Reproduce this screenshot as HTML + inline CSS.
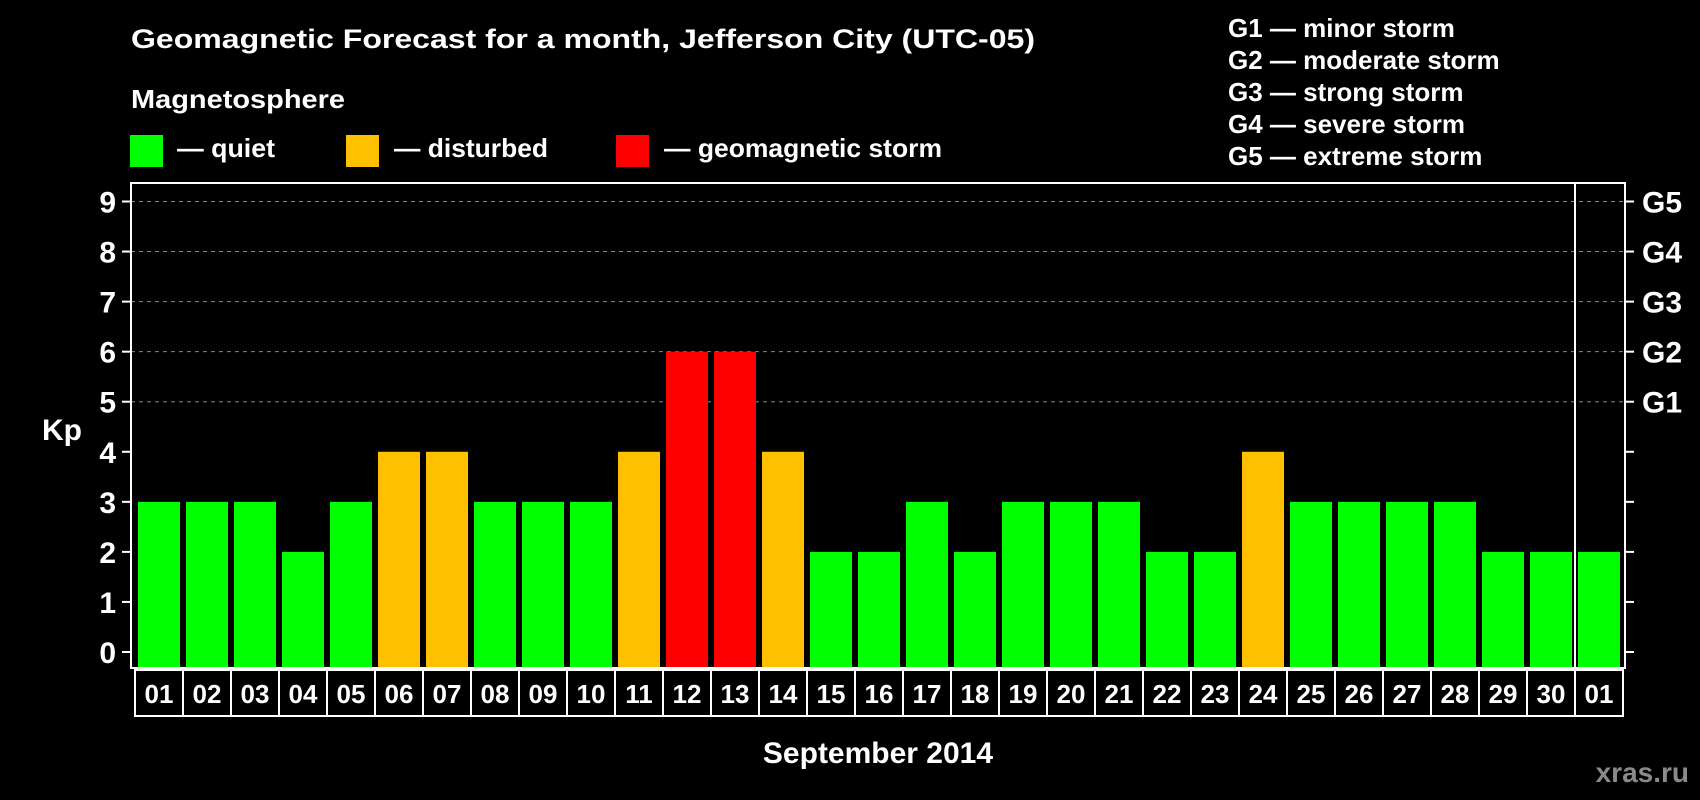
<!DOCTYPE html>
<html><head><meta charset="utf-8"><style>
html,body{margin:0;padding:0;background:#000;}
svg{display:block;font-family:"Liberation Sans",Arial,sans-serif;font-weight:bold;}
</style></head><body>
<svg id="chart" width="1700" height="800" viewBox="0 0 1700 800">
<rect x="0" y="0" width="1700" height="800" fill="#000"/>
<text x="131" y="48" fill="#fff" font-size="27" textLength="904" lengthAdjust="spacingAndGlyphs">Geomagnetic Forecast for a month, Jefferson City (UTC-05)</text>
<text x="131" y="108" fill="#fff" font-size="26" textLength="214" lengthAdjust="spacingAndGlyphs">Magnetosphere</text>
<rect x="130" y="135" width="33" height="32" fill="#00ff00"/>
<text x="177" y="157" fill="#fff" font-size="26" textLength="98" lengthAdjust="spacingAndGlyphs">— quiet</text>
<rect x="346" y="135" width="33" height="32" fill="#ffc000"/>
<text x="394" y="157" fill="#fff" font-size="26" textLength="154" lengthAdjust="spacingAndGlyphs">— disturbed</text>
<rect x="616" y="135" width="33" height="32" fill="#ff0000"/>
<text x="664" y="157" fill="#fff" font-size="26" textLength="278" lengthAdjust="spacingAndGlyphs">— geomagnetic storm</text>
<g fill="#fff" font-size="26">
<text x="1228" y="37">G1 — minor storm</text>
<text x="1228" y="69">G2 — moderate storm</text>
<text x="1228" y="101">G3 — strong storm</text>
<text x="1228" y="133">G4 — severe storm</text>
<text x="1228" y="165">G5 — extreme storm</text>
</g>
<g id="plot"></g>
<text x="42" y="440" fill="#fff" font-size="30">Kp</text>
<text x="878" y="763" fill="#fff" font-size="30" text-anchor="middle">September 2014</text>
<text x="1689" y="782" fill="#8a8a8a" font-size="28" text-anchor="end">xras.ru</text>
</svg>
<script>
const days = ["01","02","03","04","05","06","07","08","09","10","11","12","13","14","15","16","17","18","19","20","21","22","23","24","25","26","27","28","29","30","01"];
const kp = [3,3,3,2,3,4,4,3,3,3,4,6,6,4,2,2,3,2,3,3,3,2,2,4,3,3,3,3,2,2,2];
const yTicks = [0,1,2,3,4,5,6,7,8,9];
const gLabels = ["G1","G2","G3","G4","G5"];
const gLevels = [5,6,7,8,9];

const NS="http://www.w3.org/2000/svg";
const g=document.getElementById('plot');
const L=131,R=1625,T=183,B=668,y0=652,unit=(652-201.5)/9;
const pitch=48,x0=135;
const Y=v=>y0-v*unit;
const X=i=>x0+i*pitch;
function mk(t,a){const e=document.createElementNS(NS,t);for(const k in a)e.setAttribute(k,a[k]);g.appendChild(e);return e;}
yTicks.forEach(v=>{
  if(v>=5){const l=mk('line',{x1:L,x2:R,y1:Y(v),y2:Y(v),stroke:'#888','stroke-width':1,'stroke-dasharray':'4,4'});
  
  }
  const t=mk('line',{x1:122,x2:L,y1:Y(v),y2:Y(v),stroke:'#fff','stroke-width':2});
  
  
  const t2=mk('line',{x1:R,x2:1634,y1:Y(v),y2:Y(v),stroke:'#fff','stroke-width':2});
  
  
  const lb=mk('text',{x:116,y:Y(v)+11,fill:'#fff','font-size':30,'text-anchor':'end'});
  lb.textContent=v;
  
  
});
gLabels.forEach((s,i)=>{
  const t=mk('text',{x:1642,y:Y(gLevels[i])+11,fill:'#fff','font-size':30});
  t.textContent=s;
  
  
});
kp.forEach((v,i)=>{
  const c=v>=5?'#ff0000':(v>=4?'#ffc000':'#00ff00');
  const r=mk('rect',{x:X(i)+3,y:Y(v),width:42,height:B-Y(v),fill:c});
  
  
});
const f=mk('rect',{x:L,y:T,width:R-L,height:B-T,fill:'none',stroke:'#fff','stroke-width':2});


const sep=mk('line',{x1:X(30),x2:X(30),y1:T,y2:B,stroke:'#fff','stroke-width':2});


days.forEach((d,i)=>{
  const r=mk('rect',{x:X(i),y:670,width:pitch,height:46,fill:'none',stroke:'#fff','stroke-width':2});
  
  
  const t=mk('text',{x:X(i)+pitch/2,y:703,fill:'#fff','font-size':26,'text-anchor':'middle'});
  t.textContent=d;
  
  
});
</script>
</body></html>
